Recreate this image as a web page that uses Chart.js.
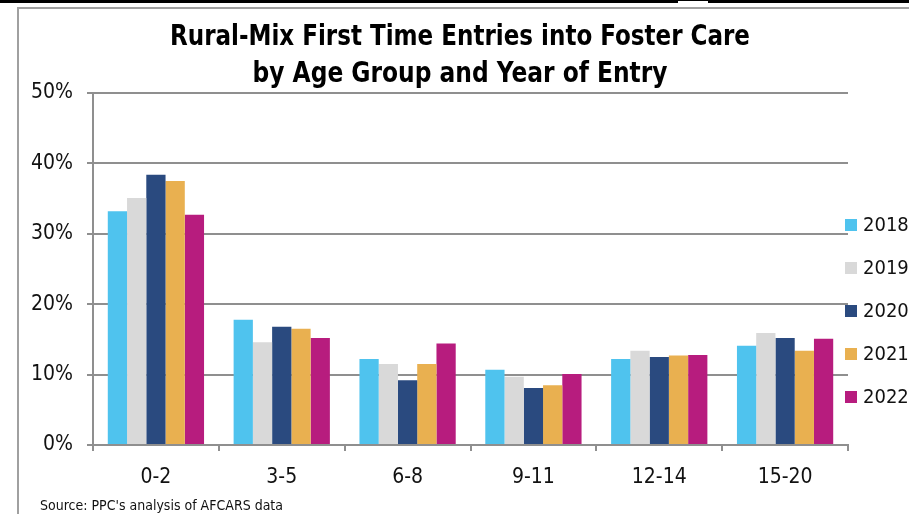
<!DOCTYPE html>
<html>
<head>
<meta charset="utf-8">
<script src="https://cdn.jsdelivr.net/npm/chart.js@4.4.1/dist/chart.umd.min.js"></script>
<style>
  html, body { margin: 0; padding: 0; background: #fff; }
  #wrap { width: 909px; height: 514px; }
</style>
</head>
<body>
<div id="wrap"><canvas id="chart" width="909" height="514"></canvas></div>
<script>
// Datos (porcentaje)
const ageGroups = ['0-2', '3-5', '6-8', '9-11', '12-14', '15-20'];
const years = ['2018', '2019', '2020', '2021', '2022'];
const yearColors = ['#4FC3EE', '#D9D9D9', '#2A4A7F', '#E9B050', '#B71C7E'];

const values2018 = [33.2, 17.8, 12.2, 10.7, 12.2, 14.1];
const values2019 = [35.1, 14.6, 11.5, 9.7, 13.4, 15.9];
const values2020 = [38.4, 16.8, 9.2, 8.1, 12.5, 15.2];
const values2021 = [37.5, 16.5, 11.5, 8.5, 12.7, 13.4];
const values2022 = [32.7, 15.2, 14.4, 10.1, 12.8, 15.1];
const allValues = [values2018, values2019, values2020, values2021, values2022];

const yTicks = [0, 10, 20, 30, 40, 50];

const titleLines = ['Rural-Mix First Time Entries into Foster Care', 'by Age Group and Year of Entry'];
const sourceText = "Source: PPC's analysis of AFCARS data";
const fontFam = "'Liberation Sans Narrow', 'DejaVu Sans Condensed', sans-serif";
const gridGray = '#8f8f8f';

// Marco, titulo, fuente y leyenda dibujados a mano
const decoPlugin = {
    id: 'deco',
    beforeDraw(chart) {
        const ctx = chart.ctx;
        ctx.save();
        ctx.fillStyle = '#fff';
        ctx.fillRect(0, 0, chart.width, chart.height);
        // franja negra superior
        ctx.fillStyle = '#000';
        ctx.fillRect(0, 0, 678, 3);
        ctx.fillRect(708, 0, chart.width - 708, 3);
        ctx.fillRect(678, 0, 30, 1);
        // borde gris
        ctx.strokeStyle = '#a0a0a0';
        ctx.lineWidth = 2;
        ctx.beginPath();
        ctx.moveTo(18, chart.height);
        ctx.lineTo(18, 8);
        ctx.lineTo(chart.width, 8);
        ctx.stroke();
        ctx.restore();
    },
    afterDraw(chart) {
        const ctx = chart.ctx;
        ctx.save();
        ctx.textBaseline = 'middle';

        // titulo (dos lineas, un poco comprimido como el original)
        ctx.fillStyle = '#000';
        ctx.textAlign = 'center';
        ctx.font = 'bold 28px ' + fontFam;
        ctx.fillText(titleLines[0], 460, 38, 580);
        ctx.fillText(titleLines[1], 460, 75, 415);

        ctx.textAlign = 'left';
        ctx.fillStyle = '#111';
        ctx.font = '14px ' + fontFam;
        ctx.fillText(sourceText, 40, 506);

        ctx.font = '20px ' + fontFam;
        chart.data.datasets.forEach((ds, i) => {
            const cy = 225 + 43 * i;
            ctx.fillStyle = ds.backgroundColor;
            ctx.fillRect(845, cy - 6, 12, 12);
            ctx.fillStyle = '#111';
            ctx.fillText(ds.label, 863, cy + 1);
        });
        ctx.restore();
    }
};

new Chart(document.getElementById('chart'), {
    type: 'bar',
    data: {
        labels: ageGroups,
        datasets: years.map((y, i) => ({
            label: y,
            data: allValues[i],
            backgroundColor: yearColors[i],
            borderWidth: 0,
            categoryPercentage: 0.765,
            barPercentage: 1
        }))
    },
    options: {
        responsive: false,
        animation: false,
        devicePixelRatio: 1,
        layout: { padding: { left: 18, right: 61, top: 93, bottom: 29 } },
        plugins: {
            legend: { display: false },
            tooltip: { enabled: false },
            title: { display: false }
        },
        scales: {
            x: {
                grid: { drawOnChartArea: false, color: gridGray, lineWidth: 2, tickLength: 6 },
                border: { color: gridGray, width: 2 },
                ticks: { color: '#111', font: { family: fontFam, size: 21 }, padding: 14 },
                afterFit(s) { s.height = 40; }
            },
            y: {
                min: 0,
                max: 50,
                afterBuildTicks(s) { s.ticks = yTicks.map(v => ({ value: v })); },
                grid: { color: gridGray, lineWidth: 2, tickLength: 6 },
                border: { color: gridGray, width: 2 },
                ticks: {
                    color: '#111',
                    font: { family: fontFam, size: 21 },
                    padding: 14,
                    callback: v => v + '%'
                },
                afterFit(s) { s.width = 75; }
            }
        }
    },
    plugins: [decoPlugin]
});
</script>
</body>
</html>
